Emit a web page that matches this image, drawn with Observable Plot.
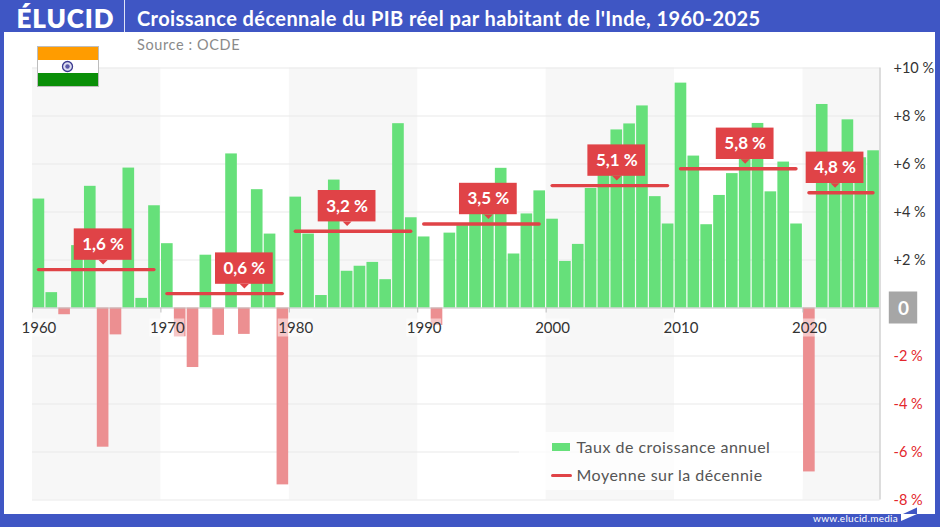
<!DOCTYPE html>
<html lang="fr">
<head>
<meta charset="utf-8">
<script src="https://cdn.jsdelivr.net/npm/d3@7"></script>
<script src="https://cdn.jsdelivr.net/npm/@observablehq/plot@0.6"></script>
<style>
  html, body { margin: 0; padding: 0; background: #fff; }
  body { width: 940px; height: 527px; overflow: hidden; position: relative; font-family: Lato, sans-serif; }
  #chart { position: absolute; left: 0; top: 0; }
  .band { position: absolute; background: #3f56c4; }
  #top { left: 0; top: 0; width: 940px; height: 32px; }
  #left { left: 0; top: 0; width: 4px; height: 527px; }
  #right { left: 935px; top: 0; width: 5px; height: 527px; }
  #bottom { left: 0; top: 514px; width: 940px; height: 13px; }
  #sep { position: absolute; left: 124px; top: 0; width: 1px; height: 32px; background: #dfe3f6; }
  #logo { position: absolute; left: 16.5px; top: 0; height: 32px; line-height: 36px; font-size: 26px; font-weight: 800; color: #fff; letter-spacing: .9px; }
  #title { position: absolute; left: 137px; top: 0; height: 36px; line-height: 36px; font-size: 20px; font-weight: 700; color: #fff; white-space: nowrap; letter-spacing: .42px; }
  #source { position: absolute; left: 137px; top: 35.5px; line-height: 18px; font-size: 14.5px; color: #8a8a8a; letter-spacing: .6px; }
  #flag { position: absolute; left: 36.5px; top: 46px; width: 60px; height: 39px; border: 1px solid #bdbdbd; background: linear-gradient(#ff9c00 0 33.3%, #fff 33.3% 66.6%, #0a8f08 66.6%); }
  #flag svg { position: absolute; left: 23.5px; top: 13px; }
  #legend { position: absolute; left: 519px; top: 432px; width: 284px; height: 58px; background: rgba(255,255,255,.75); }
  #legend div { position: absolute; left: 57.5px; white-space: nowrap; font-size: 16px; color: #555; letter-spacing: .48px; line-height: 18px; }
  #legend i { position: absolute; display: block; }
  #www { position: absolute; left: 813px; top: 512px; line-height: 13px; font-size: 10px; color: #fff; letter-spacing: .28px; white-space: nowrap; }
  #mark { position: absolute; left: 900px; top: 507px; }
</style>
</head>
<body>
<div id="chart"></div>
<div class="band" id="top"></div>
<div class="band" id="left"></div>
<div class="band" id="right"></div>
<div class="band" id="bottom"></div>
<div id="sep"></div>
<div id="logo">ÉLUCID</div>
<div id="title">Croissance décennale du PIB réel par habitant de l'Inde, 1960-2025</div>
<div id="source">Source : OCDE</div>
<div id="flag"><svg width="13" height="13" viewBox="0 0 13 13"><circle cx="6.5" cy="6.5" r="5" fill="#dcdcf0" stroke="#3b3a8f" stroke-width="1.3"/><circle cx="6.5" cy="6.5" r="2.2" fill="#5a58a8"/></svg></div>
<div id="legend">
  <i style="left:33px;top:11px;width:18px;height:8px;background:#66e07a"></i>
  <div style="top:5.5px">Taux de croissance annuel</div>
  <i style="left:31.5px;top:41.5px;width:21px;height:3.4px;border-radius:2px;background:#e04347"></i>
  <div style="top:34px">Moyenne sur la décennie</div>
</div>
<div id="www">www.elucid.media</div>
<svg id="mark" width="18" height="15" viewBox="0 0 18 15"><polygon points="17,0.5 17,7 3,7" fill="#3f56c4"/><polygon points="1,7 17,7 1,14" fill="#fff"/></svg>

<script>
const years = d3.range(1960, 2026);
const growth = [
  4.54, 0.64, -0.28, 2.6, 5.07, -5.8, -1.12, 5.83, 0.4, 4.26,
  2.68, -1.2, -2.48, 2.2, -1.14, 6.42, -1.1, 4.93, 3.08, -7.37,
  4.62, 3.08, 0.52, 5.33, 1.53, 1.74, 1.9, 1.18, 7.68, 3.76,
  2.96, -0.73, 3.12, 3.43, 4.4, 5.1, 5.82, 2.25, 3.92, 4.88,
  3.7, 1.94, 2.65, 4.98, 5.9, 7.42, 7.67, 8.42, 4.64, 3.5,
  9.37, 6.33, 3.47, 4.69, 5.6, 6.5, 7.69, 4.84, 6.08, 3.5,
  -6.83, 8.48, 6.0, 7.84, 6.26, 6.55
];
const decadeStarts = [1960, 1970, 1980, 1990, 2000, 2010, 2020];
const decadeEnds = [1970, 1980, 1990, 2000, 2010, 2020, 2026];
const decadeMeans = [1.6, 0.6, 3.2, 3.5, 5.1, 5.8, 4.8];
const decadeLabels = ["1,6 %", "0,6 %", "3,2 %", "3,5 %", "5,1 %", "5,8 %", "4,8 %"];
const labelYears = [1965.5, 1976.5, 1984.5, 1995.5, 2005.5, 2015.5, 2022.5];
const shadedStarts = [1960, 1980, 2000, 2020];
const shadedEnds = [1970, 1990, 2010, 2026];
const gridTicks = [-8, -6, -4, -2, 2, 4, 6, 8, 10];
const positiveTicks = [2, 4, 6, 8, 10];
const negativeTicks = [-2, -4, -6, -8];

const bars = years.map((year, i) => ({year, value: growth[i]}));
const decades = decadeStarts.map((start, i) => ({
  start, end: decadeEnds[i], mean: decadeMeans[i], label: decadeLabels[i], at: labelYears[i]
}));
const shaded = shadedStarts.map((start, i) => ({start, end: shadedEnds[i]}));

const FONT = "Lato, sans-serif";
const GREEN = "#66e07a", PINK = "#ec8f91", RED = "#e04347";
const ctx = document.createElement("canvas").getContext("2d");
ctx.font = "700 17px " + FONT;
const boxWidth = (t) => ctx.measureText(t).width + 16;

const tipSymbol = {draw(c) { c.moveTo(-4.5, 0); c.lineTo(4.5, 0); c.lineTo(0, 4.5); c.closePath(); }};

const svg = Plot.plot({
  width: 940, height: 527,
  marginLeft: 32, marginRight: 60.5, marginTop: 67.5, marginBottom: 27.5,
  style: {fontFamily: FONT, background: "transparent", overflow: "visible"},
  x: {domain: [1960, 2026], axis: null},
  y: {domain: [-8, 10], axis: null},
  marks: [
    Plot.rect(shaded, {x1: "start", x2: "end", y1: -8, y2: 10, fill: "#f7f7f7"}),
    Plot.ruleY(gridTicks, {stroke: "#e9e9e9", strokeWidth: 1}),
    Plot.rect(bars, {
      x1: "year", x2: (d) => d.year + 1, y1: 0, y2: "value",
      fill: (d) => (d.value >= 0 ? GREEN : PINK), insetLeft: 0.6, insetRight: 0.6
    }),
    Plot.ruleX([2026], {y1: -8, y2: 10, stroke: "#bcbcbc"}),
    Plot.ruleY([0], {stroke: "#c4c4c4"}),
    Plot.ruleX(decadeStarts, {y1: 0, y2: 0, insetBottom: -5, stroke: "#bcbcbc"}),
    Plot.rect(decadeStarts, {
      x1: (d) => d + 0.5, x2: (d) => d + 0.5, y1: 0, y2: 0, dy: 20,
      insetLeft: -17.5, insetRight: -17.5, insetTop: -9, insetBottom: -9,
      fill: "#fff", fillOpacity: 0.5
    }),
    Plot.text(decadeStarts, {
      x: (d) => d + 0.5, y: 0, dy: 20, text: String,
      fontSize: 15, fill: "#333"
    }),
    Plot.ruleY(decades, {
      y: "mean", x1: "start", x2: "end", insetLeft: 6.5, insetRight: 6.5,
      stroke: RED, strokeWidth: 3.4, strokeLinecap: "round"
    }),
    ...decades.map((d) => Plot.rect([d], {
      x1: "at", x2: "at", y1: "mean", y2: "mean", dy: -25,
      insetLeft: -boxWidth(d.label) / 2, insetRight: -boxWidth(d.label) / 2,
      insetTop: -15.7, insetBottom: -15.7,
      fill: RED
    })),
    Plot.dot(decades, {
      x: "at", y: "mean", dy: -9.6, r: 4, symbol: tipSymbol, fill: RED, stroke: "none"
    }),
    Plot.text(decades, {
      x: "at", y: "mean", dy: -25, text: "label",
      fontSize: 17, fontWeight: 700, fill: "#fff"
    }),
    Plot.axisY({
      anchor: "right", ticks: positiveTicks, tickSize: 0, tickPadding: 13.5, label: null,
      textAnchor: "start", fontSize: 14.5, fill: "#333", tickFormat: (d) => `+${d} %`
    }),
    Plot.axisY({
      anchor: "right", ticks: negativeTicks, tickSize: 0, tickPadding: 13.5, label: null,
      textAnchor: "start", fontSize: 14.5, fill: "#e3262c", tickFormat: (d) => `${d} %`
    }),
    Plot.rect([0], {
      x1: 2026, x2: 2026, y1: 0, y2: 0, dx: 23.5,
      insetLeft: -14.2, insetRight: -14.2, insetTop: -16, insetBottom: -16,
      fill: "#a6a6a6"
    }),
    Plot.text([0], {
      x: 2026, y: 0, dx: 23.5, dy: 1, text: String,
      fontSize: 19, fontWeight: 700, fill: "#fff"
    })
  ]
});
document.getElementById("chart").append(svg);
</script>
</body>
</html>
